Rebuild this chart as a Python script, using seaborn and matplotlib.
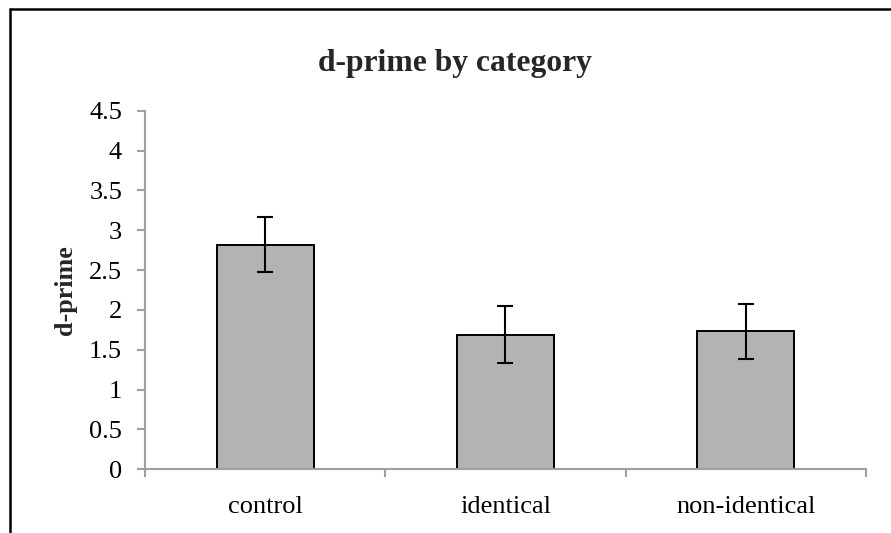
import matplotlib
matplotlib.use("Agg")
import matplotlib.pyplot as plt
import seaborn as sns
import pandas as pd
from matplotlib.lines import Line2D

categories = ["control", "identical", "non-identical"]
dprime = [2.82, 1.69, 1.73]
errors = [0.34, 0.36, 0.34]
yticks = [0, 0.5, 1, 1.5, 2, 2.5, 3, 3.5, 4, 4.5]
ytick_labels = ["0", "0.5", "1", "1.5", "2", "2.5", "3", "3.5", "4", "4.5"]

sns.set_style("white")
plt.rcParams['font.family'] = ['Liberation Serif', 'DejaVu Serif']

df = pd.DataFrame({"category": categories, "dprime": dprime})

fig = plt.figure(figsize=(8.91, 5.33), dpi=100)
ax = fig.add_axes([145/891, 1-469.3/533, (866-145)/891, (469.3-110.7)/533])

sns.barplot(data=df, x="category", y="dprime", ax=ax, color="#b3b3b3",
            saturation=1, width=0.404, edgecolor="black", linewidth=1.4,
            errorbar=None)
xs = list(range(len(categories)))
ax.errorbar(xs, dprime, yerr=errors, fmt="none", ecolor="black",
            elinewidth=1.5, capsize=5.8, capthick=1.5)

ax.set_xlim(-0.5, 2.5)
ax.set_ylim(0, 4.5)
ax.set_yticks(yticks)
ax.set_yticklabels(ytick_labels)
ax.set_xticks([-0.5, 0.5, 1.5, 2.5], minor=False)
ax.set_xticklabels([])
ax.set_xticks(xs, minor=True)
ax.set_xticklabels(categories, minor=True)

for s in ["top", "right"]:
    ax.spines[s].set_visible(False)
for s in ["left", "bottom"]:
    ax.spines[s].set_color("#a0a0a0")
    ax.spines[s].set_linewidth(1.5)

ax.tick_params(axis="y", which="major", direction="out", length=5.5, width=1.5,
               color="#a0a0a0", labelsize=19, pad=11, left=True, labelcolor="black")
ax.tick_params(axis="x", which="major", direction="out", length=6, width=1.5,
               color="#a0a0a0", bottom=True)
ax.tick_params(axis="x", which="minor", length=0, labelsize=19, pad=19.5,
               labelcolor="black")

ax.set_xlabel("")
ax.set_ylabel("d-prime", fontsize=18.8, fontweight="bold")
ax.yaxis.set_label_coords((65-145)/721, 0.5)
ax.yaxis.label.set_verticalalignment("center")

fig.text(454.5/891, 1-63/533, "d-prime by category", ha="center", va="center",
         fontsize=22.8, fontweight="bold")

# chart area border (top and left visible)
fig.add_artist(Line2D([10/891, 1.0], [1-8.5/533, 1-8.5/533], color="black",
                      linewidth=1.8, transform=fig.transFigure))
fig.add_artist(Line2D([10/891, 10/891], [0, 1-8.5/533], color="black",
                      linewidth=1.8, transform=fig.transFigure))

fig.savefig("out.png", dpi=100)
